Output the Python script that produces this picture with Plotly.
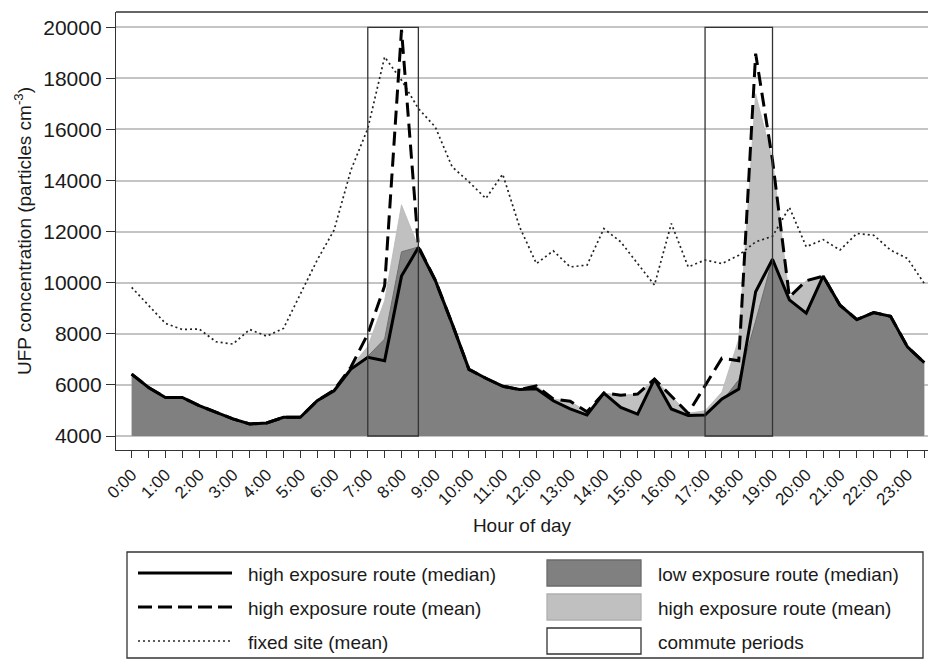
import plotly.graph_objects as go

# ---------------- data ----------------
hours = [h * 0.5 for h in range(48)]          # half-hour positions 0:00 .. 23:30
hour_tick_vals = list(range(24))
hour_tick_text = [f"{h}:00" for h in range(24)]

BASE = 4000

high_median = [6425, 5900, 5510, 5510, 5190, 4930, 4670, 4470, 4510, 4730,
               4730, 5380, 5770, 6620, 7080, 6950, 10260, 11380, 10100, 8400,
               6610, 6260, 5950, 5820, 5850, 5380, 5060, 4820, 5680, 5120,
               4860, 6230, 5060, 4800, 4820, 5450, 5840, 9650, 10920, 9330,
               8810, 10260, 9120, 8560, 8830, 8690, 7490, 6870]

low_median = [6425, 5900, 5510, 5510, 5190, 4930, 4670, 4470, 4510, 4730,
              4730, 5380, 5770, 6620, 7120, 7800, 11210, 11400, 10100, 8400,
              6610, 6260, 5950, 5820, 5850, 5380, 5060, 4820, 5680, 5120,
              4860, 6230, 5060, 4800, 4820, 5350, 6200, 8500, 10920, 9330,
              8810, 10260, 9120, 8560, 8830, 8690, 7490, 6870]

high_mean = [6425, 5900, 5510, 5510, 5190, 4930, 4670, 4470, 4510, 4730,
             4730, 5380, 5800, 6700, 7990, 9880, 19900, 11420, 10100, 8400,
             6610, 6260, 5950, 5820, 5960, 5450, 5360, 4950, 5680, 5600,
             5640, 6230, 5540, 4890, 5970, 7050, 6950, 18970, 14800, 9440,
             10080, 10260, 9120, 8560, 8830, 8690, 7490, 6870]

high_mean_area = [6425, 5900, 5510, 5510, 5190, 4930, 4670, 4470, 4510, 4730,
                  4730, 5380, 5800, 6700, 7500, 9300, 13050, 11400, 10100, 8400,
                  6610, 6260, 5950, 5820, 5960, 5450, 5360, 4950, 5680, 5600,
                  5640, 6230, 5540, 4890, 4990, 5720, 7800, 17400, 14800, 9440,
                  10080, 10260, 9120, 8560, 8830, 8690, 7490, 6870]

fixed_site = [9820, 9120, 8410, 8170, 8190, 7690, 7600, 8170, 7910, 8210,
              9580, 10890, 12060, 14410, 16040, 18840, 17930, 16820, 16100, 14540,
              13950, 13300, 14250, 12190, 10750, 11250, 10620, 10690, 12120, 11600,
              10750, 9910, 12320, 10620, 10890, 10750, 11080, 11600, 11820, 12950,
              11410, 11690, 11280, 11930, 11860, 11280, 10950, 9970]

commute_start = [7, 17]
commute_end = [8.5, 19]
y_ticks = [4000, 6000, 8000, 10000, 12000, 14000, 16000, 18000, 20000]

legend_lines = ["high exposure route (median)", "high exposure route (mean)", "fixed site (mean)"]
legend_patches = ["low exposure route (median)", "high exposure route (mean)", "commute periods"]

# ---------------- layout constants ----------------
W, H = 928, 660
ML, MR, MT, MB = 116, 0, 12, 210
PW, PH = W - ML - MR, H - MT - MB
FONT = "Liberation Sans, Arial, sans-serif"
TXT = "#1a1a1a"


def px_x(x):
    return (x - ML) / PW


def px_y(y):
    return (MT + PH - y) / PH


fig = go.Figure()
base_line = [BASE] * len(hours)

# light fill : high exposure route (mean)
fig.add_trace(go.Scatter(x=hours, y=base_line, mode="lines", line=dict(width=0),
                         hoverinfo="skip", showlegend=False))
fig.add_trace(go.Scatter(x=hours, y=high_mean_area, mode="lines", fill="tonexty",
                         fillcolor="#c0c0c0", line=dict(width=0.8, color="#b8b8b8"),
                         showlegend=False))
# dark fill : low exposure route (median)
fig.add_trace(go.Scatter(x=hours, y=base_line, mode="lines", line=dict(width=0),
                         hoverinfo="skip", showlegend=False))
fig.add_trace(go.Scatter(x=hours, y=low_median, mode="lines", fill="tonexty",
                         fillcolor="#808080", line=dict(width=1, color="#6e6e6e"),
                         showlegend=False))
# fixed site (mean) dotted
fig.add_trace(go.Scatter(x=hours, y=fixed_site, mode="lines",
                         line=dict(color="#222222", width=1.7, dash="2px,3px"),
                         showlegend=False))
# high exposure route (mean) dashed
fig.add_trace(go.Scatter(x=hours, y=high_mean, mode="lines",
                         line=dict(color="black", width=3, dash="14px,7px"),
                         showlegend=False))
# high exposure route (median) solid
fig.add_trace(go.Scatter(x=hours, y=high_median, mode="lines",
                         line=dict(color="black", width=3),
                         showlegend=False))

shapes = []
# commute periods boxes
for s, e in zip(commute_start, commute_end):
    shapes.append(dict(type="rect", xref="x", yref="y", x0=s, x1=e, y0=BASE, y1=max(y_ticks),
                       line=dict(color="#333333", width=1.3), fillcolor="rgba(0,0,0,0)",
                       layer="above"))
# top frame line
shapes.append(dict(type="line", xref="paper", yref="paper", x0=0, x1=1, y0=1, y1=1,
                   line=dict(color="#333333", width=1.3)))

# ---------------- manual legend ----------------
shapes.append(dict(type="rect", xref="paper", yref="paper",
                   x0=px_x(127), x1=px_x(923), y0=px_y(552), y1=px_y(658),
                   line=dict(color="#333333", width=1.3), fillcolor="white"))
row_y = [573, 607, 641]
line_styles = [dict(color="black", width=3),
               dict(color="black", width=3, dash="14px,6px"),
               dict(color="#2a2a2a", width=1.3, dash="2px,3px")]
for ry, st in zip(row_y, line_styles):
    shapes.append(dict(type="line", xref="paper", yref="paper",
                       x0=px_x(138), x1=px_x(232), y0=px_y(ry), y1=px_y(ry), line=st))
patch_styles = [("#808080", "#6a6a6a"), ("#c0c0c0", "#b0b0b0"), ("white", "#333333")]
for ry, (fc, lc) in zip(row_y, patch_styles):
    shapes.append(dict(type="rect", xref="paper", yref="paper",
                       x0=px_x(547), x1=px_x(641), y0=px_y(ry + 13), y1=px_y(ry - 13),
                       fillcolor=fc, line=dict(color=lc, width=1.3)))

annotations = []
for ry, t in zip(row_y, legend_lines):
    annotations.append(dict(xref="paper", yref="paper", x=px_x(246), y=px_y(ry + 1),
                            text=t, showarrow=False, xanchor="left", yanchor="middle",
                            font=dict(family=FONT, size=19, color=TXT)))
for ry, t in zip(row_y, legend_patches):
    annotations.append(dict(xref="paper", yref="paper", x=px_x(656), y=px_y(ry + 1),
                            text=t, showarrow=False, xanchor="left", yanchor="middle",
                            font=dict(family=FONT, size=19, color=TXT)))

half_hours = [h for h in hours if h != int(h)]

fig.update_layout(
    width=W, height=H,
    margin=dict(l=ML, r=MR, t=MT, b=MB, pad=0),
    paper_bgcolor="white", plot_bgcolor="white",
    font=dict(family=FONT, size=19, color=TXT),
    shapes=shapes, annotations=annotations,
    showlegend=False,
    xaxis=dict(
        range=[-0.465, 23.61],
        tickmode="array", tickvals=hour_tick_vals, ticktext=hour_tick_text,
        tickangle=-45, ticks="outside", ticklen=7, tickwidth=1.2, tickcolor="#333333",
        tickfont=dict(family=FONT, size=17, color=TXT),
        minor=dict(tickmode="array", tickvals=half_hours, ticks="outside", ticklen=7,
                   tickwidth=1.2, tickcolor="#333333", showgrid=False),
        showgrid=False, zeroline=False,
        showline=True, linecolor="#333333", linewidth=1.3,
        title=dict(text="Hour of day", font=dict(family=FONT, size=19, color=TXT), standoff=10),
        automargin=False,
    ),
    yaxis=dict(
        range=[3452, 20600],
        tickmode="array", tickvals=y_ticks, ticktext=[str(v) for v in y_ticks],
        ticks="outside", ticklen=9, tickwidth=1.2, tickcolor="#333333",
        tickfont=dict(family=FONT, size=21, color=TXT),
        showgrid=True, gridcolor="#c4c4c4", gridwidth=1.6,
        zeroline=False,
        showline=True, linecolor="#333333", linewidth=1.3,
        title=dict(text="UFP concentration (particles cm<sup>-3</sup>)",
                   font=dict(family=FONT, size=19, color=TXT), standoff=6),
        automargin=False,
    ),
)

fig.write_html("out.html")
